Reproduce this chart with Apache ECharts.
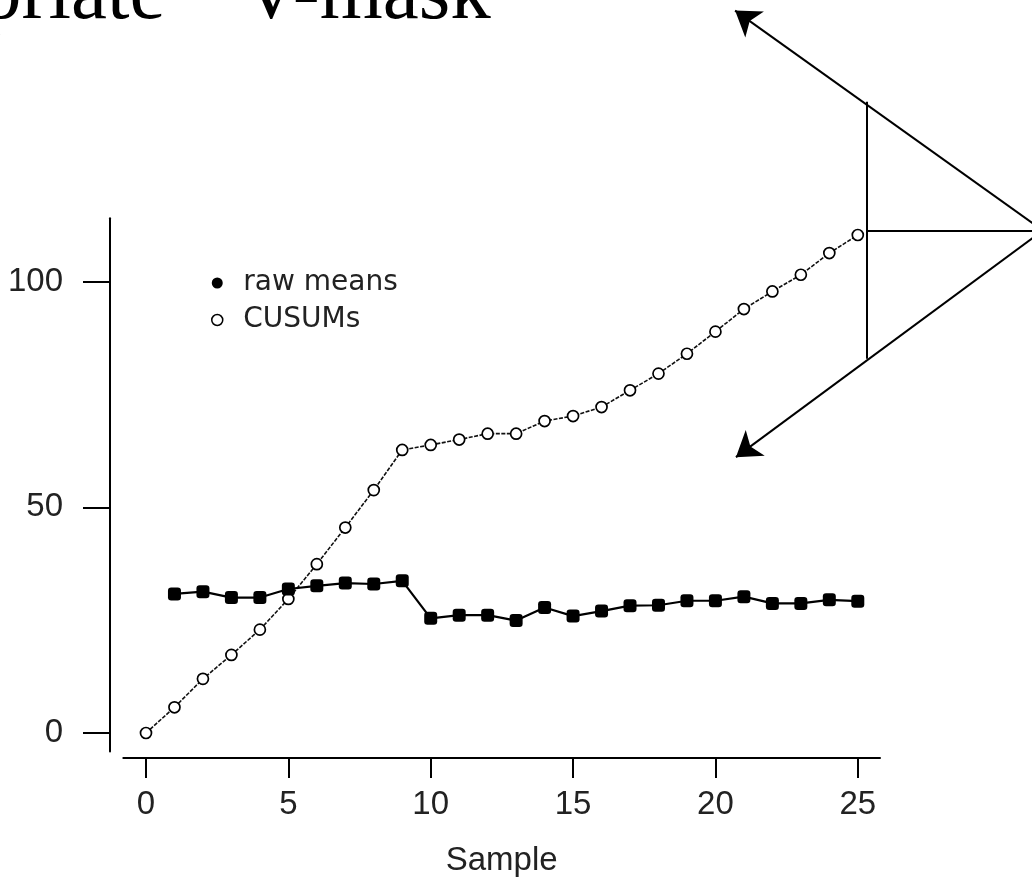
<!DOCTYPE html>
<html>
<head>
<meta charset="utf-8">
<title>V-mask CUSUM</title>
<script src="https://cdn.jsdelivr.net/npm/echarts@6/dist/echarts.min.js"></script>
<style>
  html, body { margin: 0; padding: 0; background: #fff; }
  #chart { width: 1032px; height: 882px; }
</style>
</head>
<body>
<div id="chart"></div>
<script>
// sample numbers
const rawSamples = [1, 2, 3, 4, 5, 6, 7, 8, 9, 10, 11, 12, 13, 14, 15, 16, 17, 18, 19, 20, 21, 22, 23, 24, 25];
const cusumSamples = [0, 1, 2, 3, 4, 5, 6, 7, 8, 9, 10, 11, 12, 13, 14, 15, 16, 17, 18, 19, 20, 21, 22, 23, 24, 25];

// values
const rawMeans = [30.8, 31.3, 30.0, 30.0, 31.9, 32.6, 33.2, 33.0, 33.7, 25.4, 26.1, 26.1, 24.9, 27.8, 25.9,
  27.0, 28.2, 28.3, 29.3, 29.3, 30.2, 28.7, 28.7, 29.5, 29.2];
const cusums = [0, 5.7, 12.0, 17.3, 22.9, 29.7, 37.4, 45.5, 53.8, 62.7, 63.8, 65.0, 66.3, 66.3, 69.1, 70.2,
  72.2, 75.9, 79.6, 84.0, 88.9, 93.9, 97.8, 101.5, 106.3, 110.3];

// tick labels
const xTicks = [0, 5, 10, 15, 20, 25];
const yTicks = [0, 50, 100];

// V-mask drawn in data units (vertex, bar and arm ends)
const maskVertex = [31.5, 111.3];
const maskBar = [[25.31, 139.8], [25.31, 82.9]];
const maskLead = [25.31, 111.3];
const maskArmTips = [[20.69, 160.0], [20.72, 61.1]];

const chart = echarts.init(document.getElementById("chart"));

const option = {
  animation: false,
  backgroundColor: "#fff",
  textStyle: { fontFamily: "Liberation Sans" },
  graphic: [
    {
      type: "text",
      left: -226,
      top: -44,
      style: {
        text: "Appropriate  \u201cV-mask\u201d",
        font: "81px 'Liberation Serif'",
        fill: "#000",
      },
    },
  ],
  legend: {
    orient: "vertical",
    left: 206,
    top: 264,
    itemWidth: 36,
    itemHeight: 11,
    itemGap: 9,
    textStyle: { fontSize: 28, color: "#222", fontFamily: "DejaVu Sans", padding: [0, 0, 0, 3] },
    data: [
      { name: "raw means", icon: "circle", itemStyle: { color: "#000" } },
      { name: "CUSUMs", icon: "circle", itemStyle: { color: "#fff", borderColor: "#000", borderWidth: 1.5 } },
    ],
  },
  grid: { left: 123.3, right: 152, top: 218.3, bottom: 129.3 },
  xAxis: {
    type: "value",
    min: -0.797,
    max: 25.78,
    offset: 6.6,
    name: "Sample",
    nameLocation: "middle",
    nameGap: 86,
    nameTextStyle: { fontSize: 33, color: "#222", fontFamily: "Liberation Sans" },
    axisLine: { show: true, onZero: false, lineStyle: { color: "#000", width: 2 } },
    axisTick: { show: true, length: 20, customValues: xTicks, lineStyle: { color: "#000", width: 2 } },
    axisLabel: { customValues: xTicks, fontSize: 33, color: "#222", margin: 30 },
    splitLine: { show: false },
  },
  yAxis: {
    type: "value",
    min: -4.07,
    max: 114.0,
    offset: 13.3,
    axisLine: { show: true, onZero: false, lineStyle: { color: "#000", width: 2 } },
    axisTick: { show: true, length: 27, customValues: yTicks, lineStyle: { color: "#000", width: 2 } },
    axisLabel: { customValues: yTicks, fontSize: 33, color: "#222", margin: 47 },
    splitLine: { show: false },
  },
  series: [
    {
      name: "raw means",
      type: "line",
      data: rawSamples.map((s, i) => [s, rawMeans[i]]),
      symbol: "roundRect",
      symbolSize: 13,
      itemStyle: { color: "#000" },
      lineStyle: { color: "#000", width: 2.2 },
      z: 3,
    },
    {
      name: "CUSUMs",
      type: "line",
      data: cusumSamples.map((s, i) => [s, cusums[i]]),
      symbol: "circle",
      symbolSize: 11,
      itemStyle: { color: "#fff", borderColor: "#000", borderWidth: 1.7 },
      lineStyle: { color: "#111", width: 1.6, type: [4, 1.5] },
      z: 2,
    },
    {
      name: "mask",
      type: "lines",
      coordinateSystem: "cartesian2d",
      clip: false,
      silent: true,
      symbol: ["none", "none"],
      lineStyle: { color: "#000", width: 2, opacity: 1 },
      data: [
        { coords: maskBar },
        { coords: [maskLead, maskVertex] },
      ],
    },
    {
      name: "maskArms",
      type: "lines",
      coordinateSystem: "cartesian2d",
      clip: false,
      silent: true,
      symbol: ["none", "arrow"],
      symbolSize: 24,
      lineStyle: { color: "#000", width: 2, opacity: 1 },
      data: maskArmTips.map((tip) => ({ coords: [maskVertex, tip] })),
    },
  ],
};

chart.setOption(option);
</script>
</body>
</html>
